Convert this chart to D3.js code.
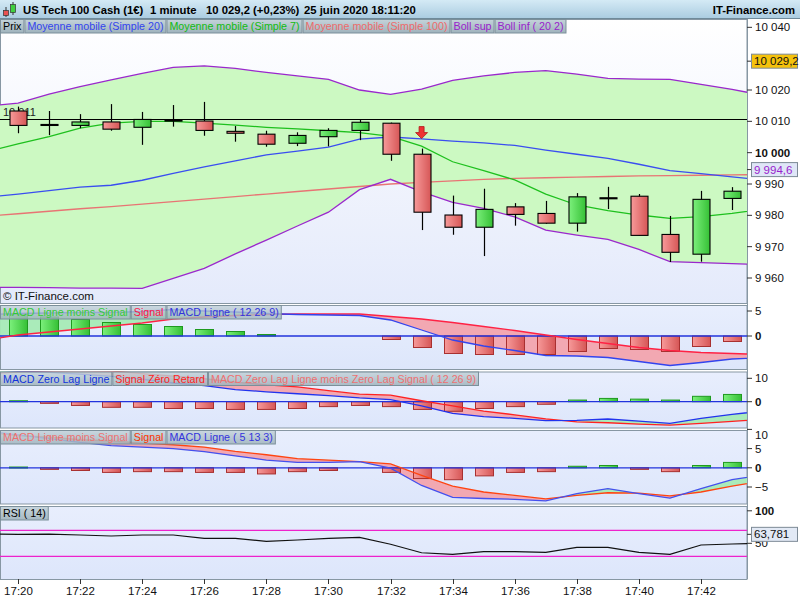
<!DOCTYPE html>
<html><head><meta charset="utf-8">
<script src="https://cdn.jsdelivr.net/npm/d3@7"></script>
<style>body{margin:0;background:#fff}svg{display:block;font-family:"Liberation Sans",Arial,sans-serif}</style>
</head><body><svg id="c" width="800" height="600"></svg>
<script>
// ---------- DATA ----------
const times = ["17:19","17:20","17:21","17:22","17:23","17:24","17:25","17:26","17:27","17:28","17:29","17:30","17:31","17:32","17:33","17:34","17:35","17:36","17:37","17:38","17:39","17:40","17:41","17:42","17:43","17:44"];
const candleTimes = ["17:20","17:21","17:22","17:23","17:24","17:25","17:26","17:27","17:28","17:29","17:30","17:31","17:32","17:33","17:34","17:35","17:36","17:37","17:38","17:39","17:40","17:41","17:42","17:43"];
const open  = [10013.3,10009.0,10008.7,10009.8,10008.1,10010.4,10010.1,10006.8,10005.9,10003.0,10005.1,10007.1,10009.4,9999.5,9980.1,9976.2,9982.7,9980.6,9977.5,9985.6,9986.1,9973.9,9967.6,9985.4];
const high  = [10014.7,10013.3,10012.3,10015.5,10013.0,10015.2,10016.2,10008.5,10007.0,10006.5,10007.8,10010.5,10009.6,10001.3,9986.3,9988.5,9983.9,9984.6,9987.1,9989.1,9986.8,9979.8,9987.8,9989.0];
const low   = [10006.2,10005.6,10007.8,10007.0,10002.5,10008.3,10005.4,10003.5,10001.9,10002.1,10002.0,10004.0,9997.4,9975.3,9973.8,9967.0,9976.7,9977.3,9974.8,9982.0,9973.6,9965.1,9965.2,9981.7];
const close = [10008.7,10008.9,10009.8,10007.5,10010.6,10010.4,10007.1,10006.2,10002.7,10005.5,10007.1,10009.7,9999.5,9981.0,9976.2,9981.9,9980.3,9977.5,9985.9,9985.6,9973.6,9968.2,9985.1,9987.7];

const bollSup = [10014.9,10015.8,10018.7,10021.1,10023.2,10025.3,10027.2,10027.7,10026.9,10025.6,10024.5,10023.4,10020.0,10018.6,10020.3,10023.1,10024.5,10025.6,10026.2,10025.1,10023.7,10023.5,10023.4,10021.8,10020.2,10018.3];
const bollInf = [9957.0,9957.0,9956.9,9956.8,9956.8,9956.7,9959.9,9963.1,9967.7,9972.1,9976.6,9981.0,9988.2,9991.5,9987.5,9984.1,9982.2,9979.5,9975.3,9973.7,9972.3,9969.1,9965.2,9964.9,9964.6,9964.3];
const sma20 = [9985.8,9986.8,9987.9,9989.0,9989.6,9991.2,9993.4,9995.5,9997.4,9999.3,10000.5,10001.8,10004.3,10005.0,10004.4,10003.7,10003.1,10002.3,10000.8,9999.5,9998.2,9996.3,9994.3,9993.3,9992.3,9991.3];
const sma7 = [10000.3,10002.8,10005.1,10007.8,10009.4,10010.0,10010.0,10009.4,10008.8,10008.1,10007.6,10007.0,10006.4,10005.2,10002.1,9997.1,9994.3,9991.3,9986.8,9983.3,9981.5,9980.1,9979.0,9979.6,9980.6,9982.0];
const sma100 = [9979.7,9980.5,9981.3,9982.1,9982.8,9983.6,9984.4,9985.2,9986.0,9986.8,9987.6,9988.4,9989.2,9990.0,9990.5,9991.0,9991.5,9991.8,9992.0,9992.2,9992.4,9992.6,9992.7,9992.8,9992.9,9993.0];
const hLine = 10010.6;
const lastPrice = 10029.2, changePct = 0.23, midLabel = 9994.6;
const arrowTimes = ["17:33"];

const macd1 = [4.3,4.5,4.6,4.7,4.7,4.9,5.3,5.0,4.8,4.5,4.3,4.2,4.1,3.2,1.2,-0.8,-2.0,-2.9,-3.9,-4.0,-4.3,-5.1,-5.9,-5.3,-4.6,-4.3];
const signal1 = [-0.8,0.2,0.8,1.4,2.0,2.6,3.4,3.8,4.1,4.3,4.4,4.4,4.4,3.9,3.4,2.7,1.9,1.1,0.2,-0.7,-1.5,-2.3,-2.9,-3.3,-3.5,-3.7];
const hist1 = [4.3,3.8,3.3,2.7,2.3,1.9,1.3,0.9,0.3,0,0,0,-0.7,-2.3,-3.5,-3.7,-3.7,-3.7,-3.1,-2.5,-2.7,-3.1,-2.1,-1.1];

const zlMacd = [13.8,13.0,12.5,11.8,10.8,9.6,8.0,6.9,5.2,4.2,3.4,2.6,1.6,0.9,-1.8,-5.0,-6.4,-7.1,-8.1,-8.0,-7.4,-8.3,-9.3,-7.1,-5.4,-4.0];
const zlSignal = [12.0,12.6,13.2,13.4,13.2,12.0,10.9,9.8,8.4,7.2,6.3,4.7,3.2,2.8,0.4,-1.8,-4.0,-5.6,-7.3,-8.6,-9.0,-9.6,-10.0,-9.3,-8.4,-7.6];
const zlHist = [0.4,-0.7,-1.6,-2.4,-2.4,-2.9,-2.9,-3.3,-3.3,-2.9,-2.1,-1.6,-2.1,-3.3,-4.1,-2.9,-2.1,-1.1,0.7,1.4,1.1,0.7,2.3,3.1];

const macd3 = [9.5,8.6,7.6,6.6,5.8,5.4,5.0,4.2,3.1,2.0,1.4,1.4,1.6,-0.1,-4.6,-7.7,-8.0,-8.2,-8.6,-6.7,-5.4,-6.7,-7.9,-5.4,-3.1,-1.8];
const signal3 = [9.3,8.4,8.0,7.3,7.0,6.4,6.0,5.4,4.3,3.4,2.4,2.0,1.6,1.0,-2.0,-4.8,-6.3,-7.2,-8.1,-7.2,-6.5,-6.6,-7.3,-6.3,-4.8,-3.4];
const hist3 = [0.2,-0.4,-0.7,-1.2,-1.0,-1.0,-1.2,-1.2,-1.6,-1.0,-0.7,0,-1.2,-2.8,-3.1,-2.1,-1.2,-1.0,0.4,0.6,-0.4,-1.0,0.6,1.4];

const rsi = [64.3,63.8,64.0,62.8,61.2,62.8,62.8,57.7,57.7,53.1,55.1,57.7,59.2,48.5,35.5,33.1,37.1,37.1,36.1,43.8,43.8,36.1,33.1,47.4,48.9,50.0];
const rsiLast = 63.781;
const rsiLevels = [30,70];

const xTicks = ["17:20","17:22","17:24","17:26","17:28","17:30","17:32","17:34","17:36","17:38","17:40","17:42"];
const mainTicks = [9960,9970,9980,9990,10000,10010,10020,10040];
const p1Ticks = [0,5], p2Ticks = [0,10], p3Ticks = [-5,0,5,10], rsiTicks = [50,100];

const header = ["US Tech 100 Cash (1€)","1 minute","25 juin 2020 18:11:20"];
const mainLegend = [["Prix","#000"],["Moyenne mobile (Simple 20)","#3344ee"],["Moyenne mobile (Simple 7)","#11bb11"],["Moyenne mobile (Simple 100)","#ee6a6a"],["Boll sup","#9922cc"],["Boll inf ( 20 2)","#9922cc"]];
const p1Legend = [["MACD Ligne moins Signal","#33cc33"],["Signal","#ff1144"],["MACD Ligne ( 12 26 9)","#3333dd"]];
const p2Legend = [["MACD Zero Lag Ligne","#1133dd"],["Signal Zéro Retard","#ff2222"],["MACD Zero Lag Ligne moins Zero Lag Signal ( 12 26 9)","#ee7070"]];
const p3Legend = [["MACD Ligne moins Signal","#ee7070"],["Signal","#ff3300"],["MACD Ligne ( 5 13 3)","#3333dd"]];
const rsiLegend = [["RSI ( 14)","#000"]];

// ---------- SETUP ----------
const svg = d3.select("#c");
const defs = svg.append("defs");
const W = 747;
const loc = d3.formatLocale({decimal:",",thousands:" ",grouping:[3],currency:["",""]});
const f0 = loc.format(",.0f"), f1 = loc.format(",.1f"), f2 = loc.format(",.2f"), f3 = loc.format(",.3f");
const toMin = s => { const [h,m] = s.split(":").map(Number); return h*60+m; };
const x = d3.scaleLinear().domain([toMin("17:20"), toMin("17:42")]).range([18, 701]);
const xt = s => x(toMin(s));

function grad(id, stops, vertical){
  const g = defs.append("linearGradient").attr("id",id)
    .attr("x1",0).attr("y1",0).attr("x2",vertical?0:1).attr("y2",vertical?1:0);
  stops.forEach((c,i)=>g.append("stop").attr("offset",i/(stops.length-1)).attr("stop-color",c));
}
grad("gHead",["#d4eaf5","#a9cbe0"],true);
grad("gMain",["#ffffff","#e4eafb"],true);
grad("gPanel",["#e8eefd","#dde6fb"],true);
grad("gLeg",["#c4d3da","#9fb3bc"],true);
grad("gRed",["#f79a9a","#d65656"],false);
grad("gGreen",["#7cf07c","#35c035"],false);

const panels = {
  main:{top:19,bottom:303}, p1:{top:305,bottom:369}, p2:{top:371.5,bottom:427.5},
  p3:{top:430,bottom:503.5}, rsi:{top:506,bottom:579}
};
Object.entries(panels).forEach(([k,p])=>{
  defs.append("clipPath").attr("id","clip-"+k).append("rect")
    .attr("x",0).attr("y",p.top).attr("width",W).attr("height",p.bottom-p.top);
});

// backgrounds
svg.append("rect").attr("width",800).attr("height",600).attr("fill","#fff");
Object.entries(panels).forEach(([k,p])=>{
  svg.append("rect").attr("x",0.5).attr("y",p.top+0.5).attr("width",W-0.5).attr("height",p.bottom-p.top)
    .attr("fill", k==="main"?"url(#gMain)":"url(#gPanel)").attr("stroke","#8797a3").attr("stroke-width",1);
});

const yMain = d3.scaleLinear().domain([9960,10020]).range([278,90]);
const y1 = d3.scaleLinear().domain([0,5]).range([336,311]);
const y2 = d3.scaleLinear().domain([0,10]).range([401.7,378.3]);
const y3 = d3.scaleLinear().domain([-5,5]).range([487,448.6]);
const yR = d3.scaleLinear().domain([30,70]).range([556.3,530.3]);

const lineOf = (vals, ys) => d3.line().x((d,i)=>xt(times[i])).y(d=>ys(d))(vals);

// ---------- MAIN PANEL ----------
const gm = svg.append("g").attr("clip-path","url(#clip-main)");
const band = d3.area().x((d,i)=>xt(times[i])).y0((d,i)=>yMain(bollInf[i])).y1(d=>yMain(d));
gm.append("path").attr("d",band(bollSup)).attr("fill","#ccf9c2");
gm.append("path").attr("d",lineOf(sma100,yMain)).attr("fill","none").attr("stroke","#e87474").attr("stroke-width",1.3);
gm.append("path").attr("d",lineOf(sma20,yMain)).attr("fill","none").attr("stroke","#3a4ef0").attr("stroke-width",1.3);
gm.append("path").attr("d",lineOf(sma7,yMain)).attr("fill","none").attr("stroke","#1ec01e").attr("stroke-width",1.3);
gm.append("path").attr("d",lineOf(bollSup,yMain)).attr("fill","none").attr("stroke","#9a28cc").attr("stroke-width",1.3);
gm.append("path").attr("d",lineOf(bollInf,yMain)).attr("fill","none").attr("stroke","#9a28cc").attr("stroke-width",1.3);
gm.append("line").attr("x1",0).attr("x2",W).attr("y1",Math.round(yMain(hLine))+0.5).attr("y2",Math.round(yMain(hLine))+0.5).attr("stroke","#000");
gm.append("text").attr("x",3).attr("y",yMain(hLine)-3).attr("font-size",11).attr("fill","#222").text(f0(hLine));

candleTimes.forEach((t,i)=>{
  const cx = Math.round(xt(t))+0.5;
  const o=open[i], c=close[i];
  gm.append("line").attr("x1",cx).attr("x2",cx).attr("y1",yMain(high[i])).attr("y2",yMain(low[i])).attr("stroke","#000").attr("stroke-width",1.2);
  const top = yMain(Math.max(o,c)), bot = yMain(Math.min(o,c));
  const fill = c>o ? "url(#gGreen)" : (c<o ? "url(#gRed)" : "#000");
  gm.append("rect").attr("x",cx-8.5).attr("y",top).attr("width",17).attr("height",Math.max(1,bot-top))
    .attr("fill",fill).attr("stroke","#000").attr("stroke-width",1.1);
});
arrowTimes.forEach(t=>{
  const i = candleTimes.indexOf(t);
  const cx = xt(t), tip = yMain(high[i]) - 10;
  gm.append("path").attr("d",`M${cx-2.5},${tip-12}h5v6h3.5l-6,6l-6,-6h3.5z`)
    .attr("fill","#ee3333").attr("stroke","#b01818").attr("stroke-width",0.8);
});
svg.append("text").attr("x",3).attr("y",300).attr("font-size",11.5).attr("fill","#111").text("© IT-Finance.com");

// ---------- MACD helper ----------
function macdPanel(key, ys, macd, sig, hist, sigColor, macdColor){
  const p = panels[key];
  const g = svg.append("g").attr("clip-path",`url(#clip-${key})`);
  const xs = (d,i)=>xt(times[i]);
  const between = d3.area().x(xs).y0((d,i)=>ys(sig[i])).y1(d=>ys(d))(macd);
  defs.append("clipPath").attr("id",key+"-up").append("path")
    .attr("d", d3.area().x(xs).y0(p.top-50).y1(d=>ys(d))(sig));
  defs.append("clipPath").attr("id",key+"-dn").append("path")
    .attr("d", d3.area().x(xs).y0(d=>ys(d)).y1(p.bottom+50)(sig));
  g.append("g").attr("clip-path",`url(#${key}-up)`).append("path").attr("d",between).attr("fill","#a6ebb6").attr("opacity",0.95);
  g.append("g").attr("clip-path",`url(#${key}-dn)`).append("path").attr("d",between).attr("fill","#f2a4ae").attr("opacity",0.95);
  candleTimes.forEach((t,i)=>{
    const v = hist[i]; if (v===0) return;
    const cx = Math.round(xt(t));
    const yA = ys(Math.max(0,v)), yB = ys(Math.min(0,v));
    g.append("rect").attr("x",cx-9+0.5).attr("y",yA).attr("width",18).attr("height",Math.max(1,yB-yA))
      .attr("fill", v>0?"url(#gGreen)":"url(#gRed)").attr("stroke", v>0?"#1f9a1f":"#a83030").attr("stroke-width",1);
  });
  g.append("line").attr("x1",0).attr("x2",W).attr("y1",ys(0)).attr("y2",ys(0)).attr("stroke","#2233dd").attr("stroke-width",1.3);
  g.append("path").attr("d",lineOf(sig,ys)).attr("fill","none").attr("stroke",sigColor).attr("stroke-width",1.3);
  g.append("path").attr("d",lineOf(macd,ys)).attr("fill","none").attr("stroke",macdColor).attr("stroke-width",1.3);
}
macdPanel("p1", y1, macd1, signal1, hist1, "#ff2244", "#3344ee");
macdPanel("p2", y2, zlMacd, zlSignal, zlHist, "#ff2222", "#2233ee");
macdPanel("p3", y3, macd3, signal3, hist3, "#ff4411", "#4450ee");

// ---------- RSI ----------
const gr = svg.append("g").attr("clip-path","url(#clip-rsi)");
rsiLevels.forEach(l=>gr.append("line").attr("x1",0).attr("x2",W).attr("y1",yR(l)).attr("y2",yR(l)).attr("stroke","#ee22cc").attr("stroke-width",1.2));
gr.append("path").attr("d",lineOf(rsi,yR)).attr("fill","none").attr("stroke","#111").attr("stroke-width",1.2);

// ---------- RIGHT AXES ----------
svg.append("line").attr("x1",W+0.5).attr("x2",W+0.5).attr("y1",19).attr("y2",579).attr("stroke","#8797a3");
function axisTicks(ticks, ys, boldVal, fmt, minY){
  ticks.forEach(v=>{
    const yy = ys(v);
    svg.append("line").attr("x1",W).attr("x2",W+5).attr("y1",yy).attr("y2",yy).attr("stroke","#333");
    svg.append("text").attr("x",W+8).attr("y",Math.max(yy,minY||0)+4).attr("font-size",11.5)
      .attr("font-weight", v===boldVal?"bold":"normal").attr("fill","#111").text(fmt(v));
  });
}
axisTicks(mainTicks, yMain, 10000, f0);
axisTicks(p1Ticks, y1, 0, f0);
axisTicks(p2Ticks, y2, 0, f0);
axisTicks(p3Ticks, y3, 0, f0, 435);
axisTicks(rsiTicks, yR, 100, f0);

function valueLabel(v, ys, text, fill, color){
  const yy = ys(v);
  svg.append("line").attr("x1",W).attr("x2",W+5).attr("y1",yy).attr("y2",yy).attr("stroke","#333");
  svg.append("rect").attr("x",W+4.5).attr("y",yy-7).attr("width",46).attr("height",14).attr("fill",fill).attr("stroke","#7d8a96");
  svg.append("text").attr("x",W+7).attr("y",yy+4).attr("font-size",11.5).attr("fill",color).text(text);
}
valueLabel(lastPrice, yMain, f1(lastPrice), "#f5c20c", "#111");
valueLabel(midLabel, yMain, f1(midLabel), "#dfe6f7", "#9922cc");
valueLabel(rsiLast, yR, f3(rsiLast), "#e2e9f5", "#111");

// ---------- X AXIS ----------
xTicks.forEach(t=>{
  const xx = Math.round(xt(t))+0.5;
  svg.append("line").attr("x1",xx).attr("x2",xx).attr("y1",579).attr("y2",584).attr("stroke","#333");
  svg.append("text").attr("x",xx).attr("y",595).attr("text-anchor","middle").attr("font-size",11.5).attr("fill","#111").text(t);
});

// ---------- HEADER ----------
svg.append("rect").attr("x",0).attr("y",0).attr("width",800).attr("height",19).attr("fill","url(#gHead)");
svg.append("line").attr("x1",0).attr("x2",800).attr("y1",18.5).attr("y2",18.5).attr("stroke","#6f8a9a");
svg.append("line").attr("x1",6).attr("x2",6).attr("y1",7).attr("y2",17).attr("stroke","#333");
svg.append("rect").attr("x",3.5).attr("y",10.5).attr("width",5).attr("height",5).attr("fill","#e85050").attr("stroke","#333").attr("stroke-width",0.7);
svg.append("line").attr("x1",13).attr("x2",13).attr("y1",2).attr("y2",15).attr("stroke","#333");
svg.append("rect").attr("x",10.5).attr("y",4.5).attr("width",5).attr("height",8).attr("fill","#40d040").attr("stroke","#333").attr("stroke-width",0.7);
svg.append("text").attr("x",23).attr("y",14).attr("font-size",11.3).attr("font-weight","bold").text(header[0]);
svg.append("text").attr("x",150).attr("y",14).attr("font-size",11.3).attr("font-weight","bold").text(header[1]);
svg.append("text").attr("x",206).attr("y",14).attr("font-size",11.3).attr("font-weight","bold")
  .text(`${f1(lastPrice)} (+${f2(changePct)}%)`);
svg.append("text").attr("x",304).attr("y",14).attr("font-size",11.3).attr("font-weight","bold").text(header[2]);
svg.append("text").attr("x",795).attr("y",14).attr("text-anchor","end").attr("font-size",11.3).attr("font-weight","bold").text("IT-Finance.com");

// ---------- LEGENDS ----------
function legend(items, y0, opacity){
  let xx = 0.5;
  items.forEach(([label,color])=>{
    const g = svg.append("g");
    const r = g.append("rect");
    const t = g.append("text").attr("x",xx+2.5).attr("y",y0+11).attr("font-size",10.7).attr("fill",color).text(label);
    const w = t.node().getComputedTextLength()+5;
    r.attr("x",xx).attr("y",y0+0.5).attr("width",w).attr("height",13.5).attr("fill","url(#gLeg)")
      .attr("fill-opacity",opacity).attr("stroke","#7b8f9a").attr("stroke-width",1);
    xx += w + 1;
  });
}
legend(mainLegend, 19, 1);
legend(p1Legend, 305, 0.8);
legend(p2Legend, 371.5, 0.85);
legend(p3Legend, 430, 0.85);
legend(rsiLegend, 506, 0.9);
</script></body></html>
